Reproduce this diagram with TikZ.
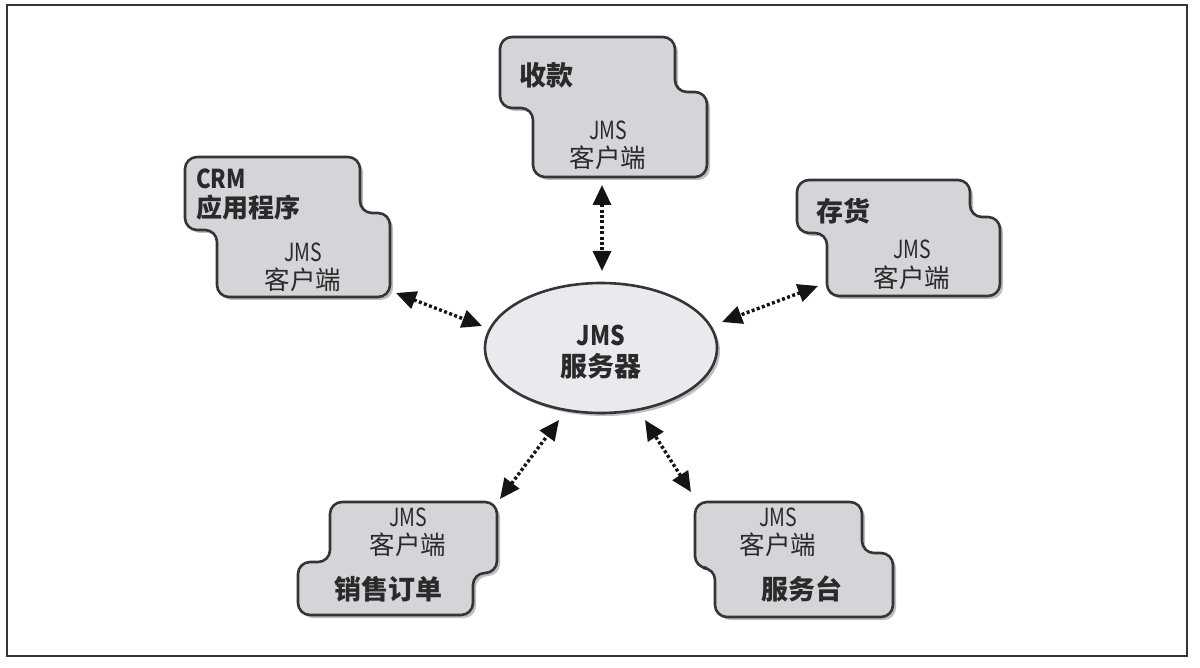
\documentclass[tikz,border=0pt]{standalone}
\usepackage{fontspec}
\setmainfont{Noto Sans CJK SC}
\usetikzlibrary{arrows.meta,shapes.geometric,shadows}
\definecolor{boxfill}{HTML}{D3D5D8}
\definecolor{boxline}{HTML}{353535}
\definecolor{ellfill}{HTML}{E9EAED}
\definecolor{txt}{HTML}{2A2A2A}
\newcommand{\jmstext}{\scalebox{0.78}[1]{JMS}}
\begin{document}
\begin{tikzpicture}[x=1pt,y=-1pt,
  client/.style={draw=boxline, line width=2.6pt, fill=boxfill, rounded corners=12pt,
    drop shadow={shadow xshift=3pt, shadow yshift=-3pt, fill=black, opacity=0.25}},
  server/.style={ellipse, draw=boxline, line width=2.6pt, fill=ellfill,
    minimum width=232pt, minimum height=130pt, inner sep=0pt,
    drop shadow={shadow xshift=3pt, shadow yshift=-3pt, fill=black, opacity=0.25}},
  lab/.style={font=\bfseries\fontsize{27}{30}\selectfont, text=txt, inner sep=0pt, align=left},
  jms/.style={font=\fontsize{25}{26}\selectfont, text=txt, inner sep=0pt},
  cli/.style={font=\fontsize{25.5}{26}\selectfont, text=txt, inner sep=0pt},
  conn/.style={line width=3.4pt, draw=black!92, dash pattern=on 3pt off 2.4pt,
    {Triangle[length=20pt,width=18pt]}-{Triangle[length=20pt,width=18pt]}},
  frame/.style={draw=boxline, line width=2pt}
]
\useasboundingbox (0,0) rectangle (1200,668);
\draw[frame] (7,5) rectangle (1187,656);

% server
\node[server] (srv) at (601,348) {};
\node[lab, align=center, font=\bfseries\fontsize{27}{31}\selectfont] (srvtxt) at (601,352) {\scalebox{0.85}[1]{JMS}\\服务器};

% 收款
\draw[client] (500,37) -- (675,37) -- (675,92) -- (707,92) -- (707,177) -- (533,177) -- (533,108) -- (500,108) -- cycle;
\node[lab, anchor=west] (pay) at (519,75) {收款};
\node[jms] (payj) at (608,130) {\jmstext};
\node[cli] (payc) at (608,158) {客户端};

% CRM
\draw[client] (185,157) -- (360,157) -- (360,213) -- (390,213) -- (390,297) -- (217,297) -- (217,230) -- (185,230) -- cycle;
\node[lab, anchor=west, font=\bfseries\fontsize{26}{29}\selectfont] (crm) at (196,195) {\scalebox{0.85}[1]{CRM}\\应用程序};
\node[jms] (crmj) at (303,252) {\jmstext};
\node[cli] (crmc) at (303,280) {客户端};

% 存货
\draw[client] (797,180) -- (970,180) -- (970,217) -- (1000,217) -- (1000,296) -- (827,296) -- (827,233) -- (797,233) -- cycle;
\node[lab, anchor=west] (inv) at (816,211) {存货};
\node[jms] (invj) at (912,249) {\jmstext};
\node[cli] (invc) at (912,278) {客户端};

% 销售订单
\draw[client] (330,502) -- (497,502) -- (497,573) -- (473,573) -- (473,615) -- (298,615) -- (298,562) -- (330,562) -- cycle;
\node[jms] (salj) at (408,517) {\jmstext};
\node[cli] (salc) at (408,545) {客户端};
\node[lab] (sal) at (388,589) {销售订单};

% 服务台
\draw[client] (695,502) -- (862,502) -- (862,553) -- (893,553) -- (893,617) -- (715,617) -- (715,568) -- (695,568) -- cycle;
\node[jms] (hlpj) at (778,517) {\jmstext};
\node[cli] (hlpc) at (778,545) {客户端};
\node[lab] (hlp) at (802,589) {服务台};

% connector end points
\coordinate (payE) at (602,185);
\coordinate (srvN) at (602,271);
\coordinate (crmE) at (396,293);
\coordinate (srvNW) at (482,326);
\coordinate (invE) at (818,286);
\coordinate (srvNE) at (722,322);
\coordinate (salE) at (500,499);
\coordinate (srvSW) at (559,420);
\coordinate (hlpE) at (691,492);
\coordinate (srvSE) at (645,420);

\draw[conn] (payE) -- (srvN);
\draw[conn] (crmE) -- (srvNW);
\draw[conn] (invE) -- (srvNE);
\draw[conn] (salE) -- (srvSW);
\draw[conn] (hlpE) -- (srvSE);
\end{tikzpicture}
\end{document}
